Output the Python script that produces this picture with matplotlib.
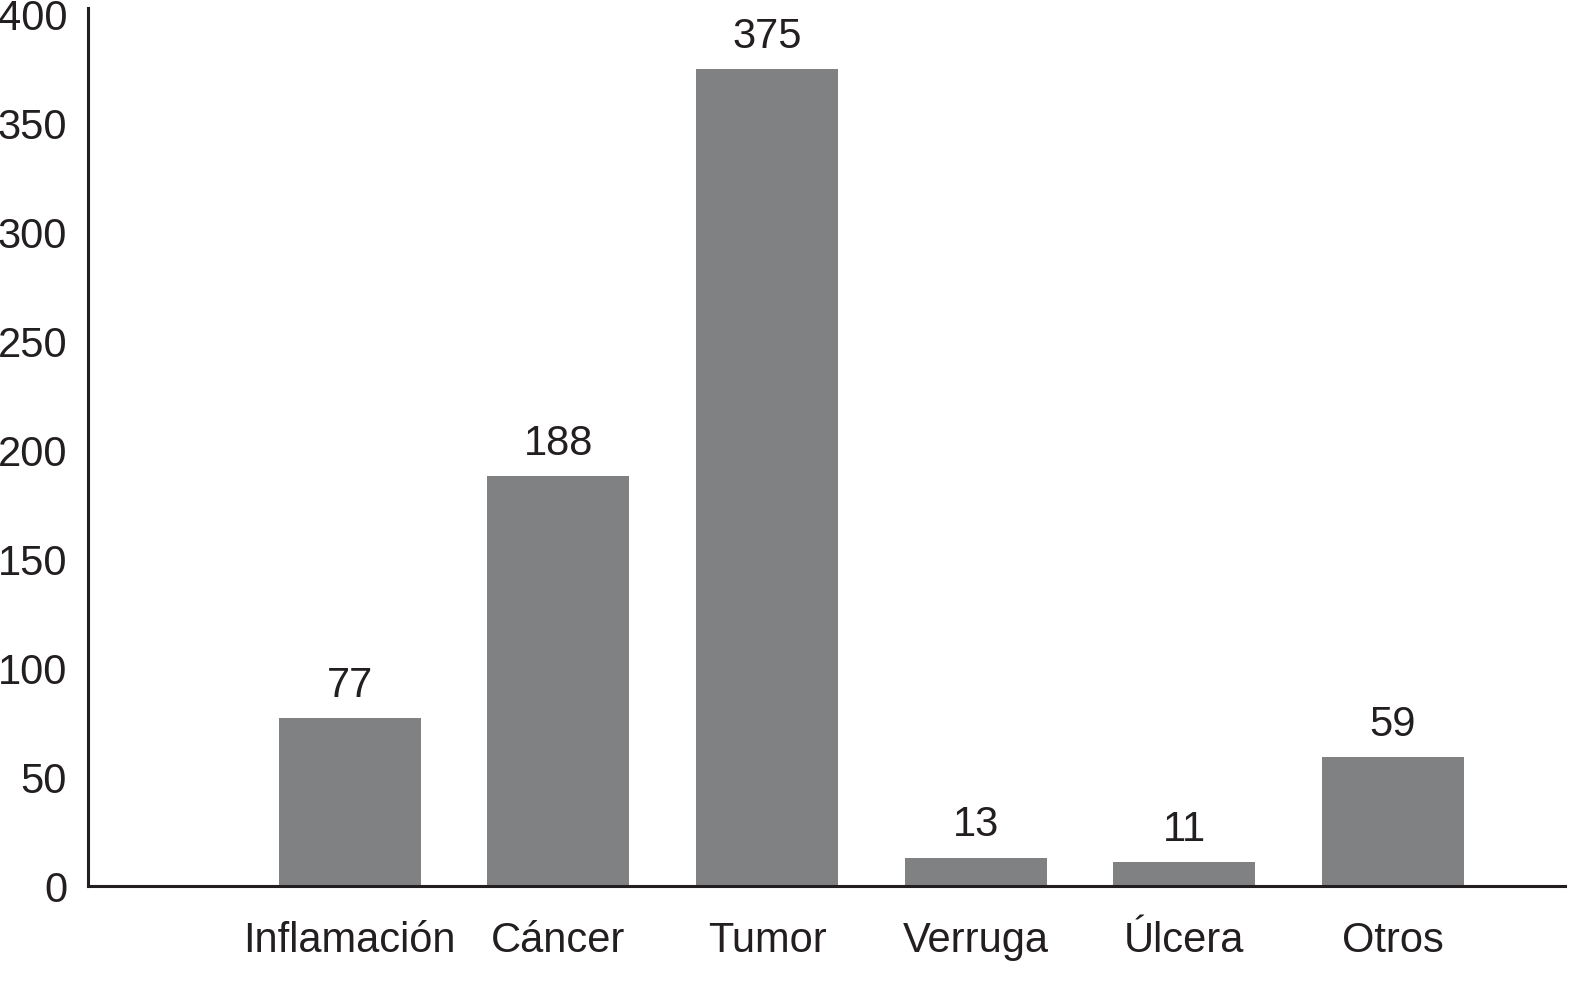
import matplotlib
matplotlib.use('Agg')
from matplotlib import pyplot as plt

categories = ['Inflamación', 'Cáncer', 'Tumor', 'Verruga', 'Úlcera', 'Otros']
counts = [77, 188, 375, 13, 11, 59]
y_ticks = [0, 50, 100, 150, 200, 250, 300, 350, 400]

plt.rcParams['font.family'] = ['Liberation Sans', 'DejaVu Sans']

fig = plt.figure(figsize=(15.74, 10.06), dpi=100)
ax = fig.add_axes([88 / 1574, 1 - 886 / 1006, (1565 - 88) / 1574, (886 - 8) / 1006])

x = list(range(len(categories)))
ax.bar(x, counts, width=0.68, color='#808183')

for xi, v in zip(x, counts):
    ax.annotate(str(v), (xi, v), xytext=(0, 9), textcoords='offset points',
                ha='center', va='bottom', fontsize=30, color='#231f20')

ax.set_xlim(-1.255, 5.825)
ax.set_ylim(0, 403)
ax.set_yticks(y_ticks)
ax.set_xticks(x)
ax.set_xticklabels(categories)
ax.tick_params(axis='both', length=0, labelsize=30, labelcolor='#231f20')
ax.tick_params(axis='y', pad=15)
ax.tick_params(axis='x', pad=25)

for side in ['top', 'right']:
    ax.spines[side].set_visible(False)
for side in ['left', 'bottom']:
    ax.spines[side].set_linewidth(2.2)
    ax.spines[side].set_color('#231f20')

plt.savefig('out.png', dpi=100)
plt.close()
